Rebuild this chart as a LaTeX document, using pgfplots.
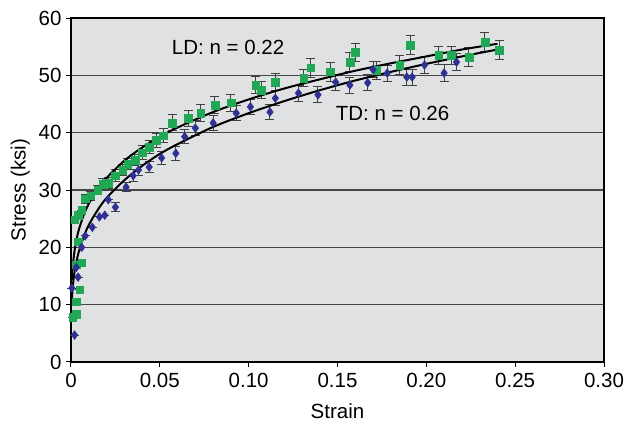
\documentclass[border=0pt]{standalone}
\usepackage{pgfplots}
\pgfplotsset{compat=1.18}
\usepackage{pgfplotstable}
\usepackage{fontspec}
\setmainfont{Liberation Sans}
\definecolor{bggray}{RGB}{223,225,227}
\definecolor{gridgray}{RGB}{70,70,70}
\definecolor{ldgreen}{RGB}{32,168,84}
\definecolor{tdblue}{RGB}{46,48,148}
\newcommand{\bigfont}{\fontsize{20.5}{22}\selectfont}

\pgfplotstableread{
x y e
0.001 7.8 0
0.003 8.3 0
0.003 10.5 0
0.005 12.6 0
0.003 17.0 0
0.006 17.3 0
0.004 21.0 0
0.002 24.8 0
0.004 25.6 0
0.006 26.5 0
0.008 28.5 0.8
0.011 29.0 0.8
0.015 30.0 0.8
0.018 31.0 1.0
0.021 31.2 1.0
0.025 32.5 1.0
0.029 33.5 1.0
0.032 34.5 1.0
0.036 35.2 1.0
0.040 36.5 1.2
0.044 37.5 1.2
0.048 38.7 1.2
0.052 39.5 1.2
0.057 41.7 1.4
0.066 42.5 1.4
0.073 43.4 1.5
0.081 44.8 1.5
0.090 45.2 1.5
0.104 48.3 1.5
0.107 47.4 1.5
0.115 48.8 1.5
0.131 49.5 1.5
0.135 51.3 1.6
0.146 50.6 1.6
0.157 52.3 1.6
0.160 54.0 1.6
0.172 50.9 1.6
0.185 51.8 1.6
0.191 55.3 1.6
0.207 53.5 1.6
0.214 53.5 1.6
0.224 53.2 1.6
0.233 55.8 1.7
0.241 54.4 1.7
}\ldtable

\pgfplotstableread{
x y e
0.002 4.7 0
0.0005 12.9 0
0.004 14.8 0
0.003 16.5 0
0.006 20.0 0
0.008 22.0 0
0.012 23.5 0
0.016 25.3 0
0.019 25.6 0
0.021 28.3 0
0.025 27.0 0.8
0.031 30.5 0.8
0.035 32.5 1.0
0.038 33.5 1.0
0.044 34.0 1.0
0.051 35.6 1.2
0.059 36.4 1.2
0.064 39.3 1.2
0.070 40.8 1.3
0.080 41.7 1.3
0.093 43.4 1.3
0.101 44.5 1.3
0.112 43.6 1.3
0.115 46.0 1.3
0.128 46.9 1.4
0.139 46.6 1.4
0.149 48.8 1.4
0.157 48.3 1.4
0.167 48.7 1.4
0.170 51.0 1.4
0.178 50.4 1.4
0.189 49.7 1.4
0.192 49.7 1.4
0.199 51.8 1.5
0.210 50.4 1.5
0.217 52.3 1.5
}\tdtable

\begin{document}
\begin{tikzpicture}
\useasboundingbox (-71pt,-63pt) rectangle (555pt,362pt);
\begin{axis}[
  at={(0,0)}, anchor=south west,
  scale only axis,
  width=533pt, height=344pt,
  xmin=0, xmax=0.30, ymin=0, ymax=60,
  xtick={0,0.05,0.10,0.15,0.20,0.25,0.30},
  xticklabels={0,0.05,0.10,0.15,0.20,0.25,0.30},
  ytick={0,10,20,30,40,50,60},
  /pgf/number format/assume math mode=true,
  tick align=outside,
  major tick length=5pt,
  tick style={black, line width=1pt},
  xtick pos=bottom, ytick pos=left,
  ymajorgrids,
  grid style={gridgray, line width=1.3pt},
  axis background/.style={fill=bggray},
  axis line style={black, line width=1.6pt},
  ticklabel style={font=\bigfont},
  xticklabel style={yshift=-3pt},
  yticklabel style={xshift=-1pt},
  label style={font=\bigfont},
  xlabel={Strain},
  ylabel={Stress (ksi)},
  xlabel style={yshift=-9pt},
  ylabel style={yshift=2pt},
  clip=false,
]
\addplot[only marks, mark=square*, mark size=3.8pt, color=ldgreen,
  error bars/.cd, y dir=both, y explicit,
  error bar style={black!75, line width=1pt},
  error mark options={rotate=90, mark size=4.5pt, black!75, line width=1pt}]
  table[x=x, y=y, y error=e] {\ldtable};
\addplot[only marks, mark=diamond*, mark size=4.4pt, color=tdblue,
  error bars/.cd, y dir=both, y explicit,
  error bar style={black!75, line width=1pt},
  error mark options={rotate=90, mark size=4.5pt, black!75, line width=1pt}]
  table[x=x, y=y, y error=e] {\tdtable};
% LD power-law fit, n = 0.22
\addplot[black, line width=2pt, smooth] coordinates {
(0.0005,14.3) (0.001,16.6) (0.002,19.4) (0.004,22.6) (0.007,25.5)
(0.01,27.6) (0.015,30.2) (0.02,32.1) (0.03,35.1) (0.04,37.4)
(0.05,39.3) (0.06,40.9) (0.08,43.6) (0.10,45.8) (0.12,47.7)
(0.14,49.3) (0.16,50.8) (0.18,52.1) (0.20,53.3) (0.22,54.5) (0.24,55.5)};
% TD power-law fit, n = 0.26
\addplot[black, line width=2pt, smooth] coordinates {
(0.0005,10.9) (0.001,13.1) (0.002,15.7) (0.004,18.8) (0.007,21.7)
(0.01,23.9) (0.015,26.5) (0.02,28.6) (0.03,31.7) (0.04,34.2)
(0.05,36.3) (0.06,38.0) (0.08,41.0) (0.10,43.4) (0.12,45.5)
(0.14,47.4) (0.16,49.1) (0.18,50.6) (0.20,52.0) (0.22,53.3) (0.24,54.5)};
\node[font=\bigfont] at (axis cs:0.0884,54.8) {LD: n = 0.22};
\node[font=\bigfont] at (axis cs:0.181,43.3) {TD: n = 0.26};
\end{axis}
\end{tikzpicture}
\end{document}
